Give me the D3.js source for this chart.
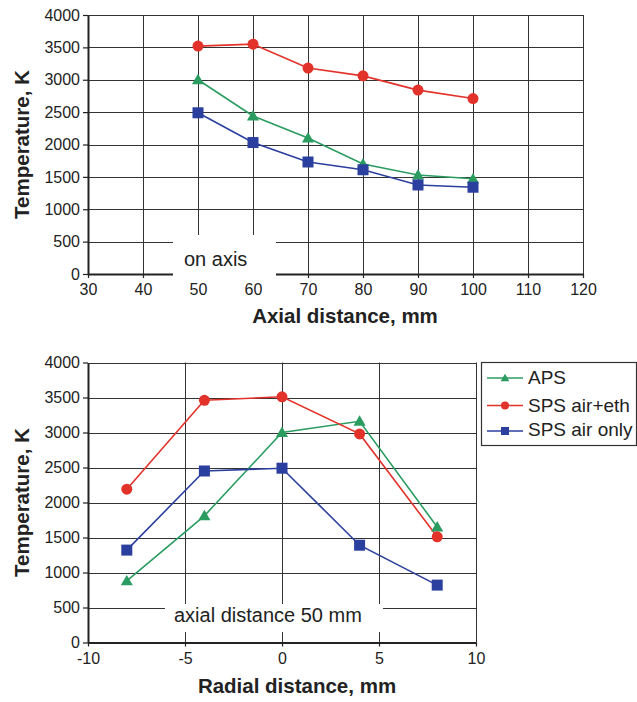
<!DOCTYPE html>
<html><head><meta charset="utf-8">
<script src="https://cdn.jsdelivr.net/npm/d3@7"></script>
<style>
html,body{margin:0;padding:0;background:#fff;}
svg{display:block;font-family:"Liberation Sans",Arial,Helvetica,sans-serif;}
</style></head>
<body>
<svg id="chart" width="637" height="702"></svg>
<script>
// ---- data ----
const seriesNames = ["APS", "SPS air+eth", "SPS air only"];
const seriesColors = ["#2a9c60", "#e2322a", "#2b3f9e"];
const seriesShapes = ["triangle", "circle", "square"];

const axialX = [50, 60, 70, 80, 90, 100];
const axialAPS = [3000, 2440, 2100, 1700, 1530, 1470];
const axialSPSeth = [3520, 3550, 3180, 3060, 2840, 2710];
const axialSPSair = [2490, 2030, 1730, 1610, 1375, 1340];

const radialX = [-8, -4, 0, 4, 8];
const radialAPS = [880, 1810, 3000, 3160, 1650];
const radialSPSeth = [2190, 3460, 3510, 2980, 1510];
const radialSPSair = [1320, 2450, 2490, 1390, 820];

const yTicks = [0, 500, 1000, 1500, 2000, 2500, 3000, 3500, 4000];
const axialTicks = [30, 40, 50, 60, 70, 80, 90, 100, 110, 120];
const radialTicks = [-10, -5, 0, 5, 10];

const svg = d3.select("#chart");

function marker(g, shape, x, y, s, color) {
  if (shape === "circle") {
    g.append("circle").attr("cx", x).attr("cy", y).attr("r", s * 0.5).attr("fill", color);
  } else if (shape === "square") {
    g.append("rect").attr("x", x - s / 2).attr("y", y - s / 2).attr("width", s).attr("height", s).attr("fill", color);
  } else {
    const h = s * 0.9;
    g.append("path").attr("d", `M${x},${y - h * 0.6}L${x + s * 0.55},${y + h * 0.45}L${x - s * 0.55},${y + h * 0.45}Z`).attr("fill", color);
  }
}

function panel(cfg) {
  const g = svg.append("g");
  const x = d3.scaleLinear().domain(cfg.xDomain).range([cfg.left, cfg.right]);
  const y = d3.scaleLinear().domain([0, 4000]).range([cfg.bottom, cfg.top]);

  // horizontal grid
  g.append("g").selectAll("line").data(yTicks.filter(d => d > 0)).join("line")
    .attr("x1", cfg.left).attr("x2", cfg.right)
    .attr("y1", d => Math.round(y(d)) + 0.5).attr("y2", d => Math.round(y(d)) + 0.5)
    .attr("stroke", "#333").attr("stroke-width", 1);
  // vertical grid
  g.append("g").selectAll("line").data(cfg.xTicks.slice(1)).join("line")
    .attr("x1", d => Math.round(x(d)) + 0.5).attr("x2", d => Math.round(x(d)) + 0.5)
    .attr("y1", cfg.top).attr("y2", cfg.bottom)
    .attr("stroke", "#333").attr("stroke-width", 1);

  // axes
  const ya = d3.axisLeft(y).tickValues(yTicks).tickSize(5).tickPadding(3).tickSizeOuter(0).tickFormat(d3.format("d"));
  const yg = g.append("g").attr("transform", `translate(${cfg.left},0)`).call(ya);
  const xa = d3.axisBottom(x).tickValues(cfg.xTicks).tickSize(4).tickPadding(6).tickSizeOuter(0).tickFormat(d3.format("d"));
  const xg = g.append("g").attr("transform", `translate(0,${cfg.bottom})`).call(xa);
  [yg, xg].forEach(a => {
    a.select(".domain").attr("stroke", "#222").attr("stroke-width", 2);
    a.selectAll(".tick line").attr("stroke", "#222").attr("stroke-width", 1.2);
    a.selectAll("text").attr("font-size", 16).attr("fill", "#222")
      .attr("font-family", '"Liberation Sans",Arial,sans-serif');
  });
  xg.selectAll("text").text(d => d < 0 ? "-" + Math.abs(d) : d);

  // annotation box
  g.append("rect").attr("x", cfg.noteBox[0]).attr("y", cfg.noteBox[1])
    .attr("width", cfg.noteBox[2]).attr("height", cfg.noteBox[3]).attr("fill", "#fff");
  g.append("text").attr("x", cfg.noteX).attr("y", cfg.noteY).attr("font-size", 20)
    .attr("fill", "#222").text(cfg.note);

  // series
  const line = d3.line().x(d => x(d[0])).y(d => y(d[1]));
  cfg.series.forEach((vals, i) => {
    const pts = cfg.xs.map((xv, j) => [xv, vals[j]]);
    g.append("path").attr("d", line(pts)).attr("fill", "none")
      .attr("stroke", seriesColors[i]).attr("stroke-width", 1.6);
  });
  cfg.series.forEach((vals, i) => {
    cfg.xs.forEach((xv, j) => marker(g, seriesShapes[i], x(xv), y(vals[j]), 11, seriesColors[i]));
  });

  // titles
  g.append("text").attr("x", cfg.xTitleX).attr("y", cfg.xTitleY).attr("text-anchor", "middle")
    .attr("font-size", 20.5).attr("font-weight", "bold").attr("fill", "#222").text(cfg.xTitle);
  g.append("text").attr("transform", `translate(29,${(cfg.top + cfg.bottom) / 2}) rotate(-90)`)
    .attr("text-anchor", "middle").attr("font-size", 20.5).attr("font-weight", "bold")
    .attr("fill", "#222").text("Temperature, K");
  return g;
}

panel({
  xDomain: [30, 120], left: 88, right: 583, top: 15, bottom: 274,
  xTicks: axialTicks, xs: axialX,
  series: [axialAPS, axialSPSeth, axialSPSair],
  note: "on axis", noteBox: [173, 235, 103, 44], noteX: 184, noteY: 266,
  xTitle: "Axial distance, mm", xTitleX: 345, xTitleY: 323
});

panel({
  xDomain: [-10, 10], left: 88, right: 476, top: 362.5, bottom: 642.5,
  xTicks: radialTicks, xs: radialX,
  series: [radialAPS, radialSPSeth, radialSPSair],
  note: "axial distance 50 mm", noteBox: [165, 604, 218, 28], noteX: 174, noteY: 622,
  xTitle: "Radial distance, mm", xTitleX: 297, xTitleY: 693
});

// legend
const lg = svg.append("g");
lg.append("rect").attr("x", 481.5).attr("y", 362.5).attr("width", 155).attr("height", 83)
  .attr("fill", "#fff").attr("stroke", "#333").attr("stroke-width", 1.2);
const legY = [378, 405.5, 431];
const legTextY = [383.5, 411.5, 435.5];
seriesNames.forEach((n, i) => {
  lg.append("line").attr("x1", 487).attr("x2", 523).attr("y1", legY[i]).attr("y2", legY[i])
    .attr("stroke", seriesColors[i]).attr("stroke-width", 1.6);
  marker(lg, seriesShapes[i], 505, legY[i], 8, seriesColors[i]);
  lg.append("text").attr("x", 528).attr("y", legTextY[i]).attr("font-size", 19)
    .attr("fill", "#222").text(n);
});
</script>
</body></html>
